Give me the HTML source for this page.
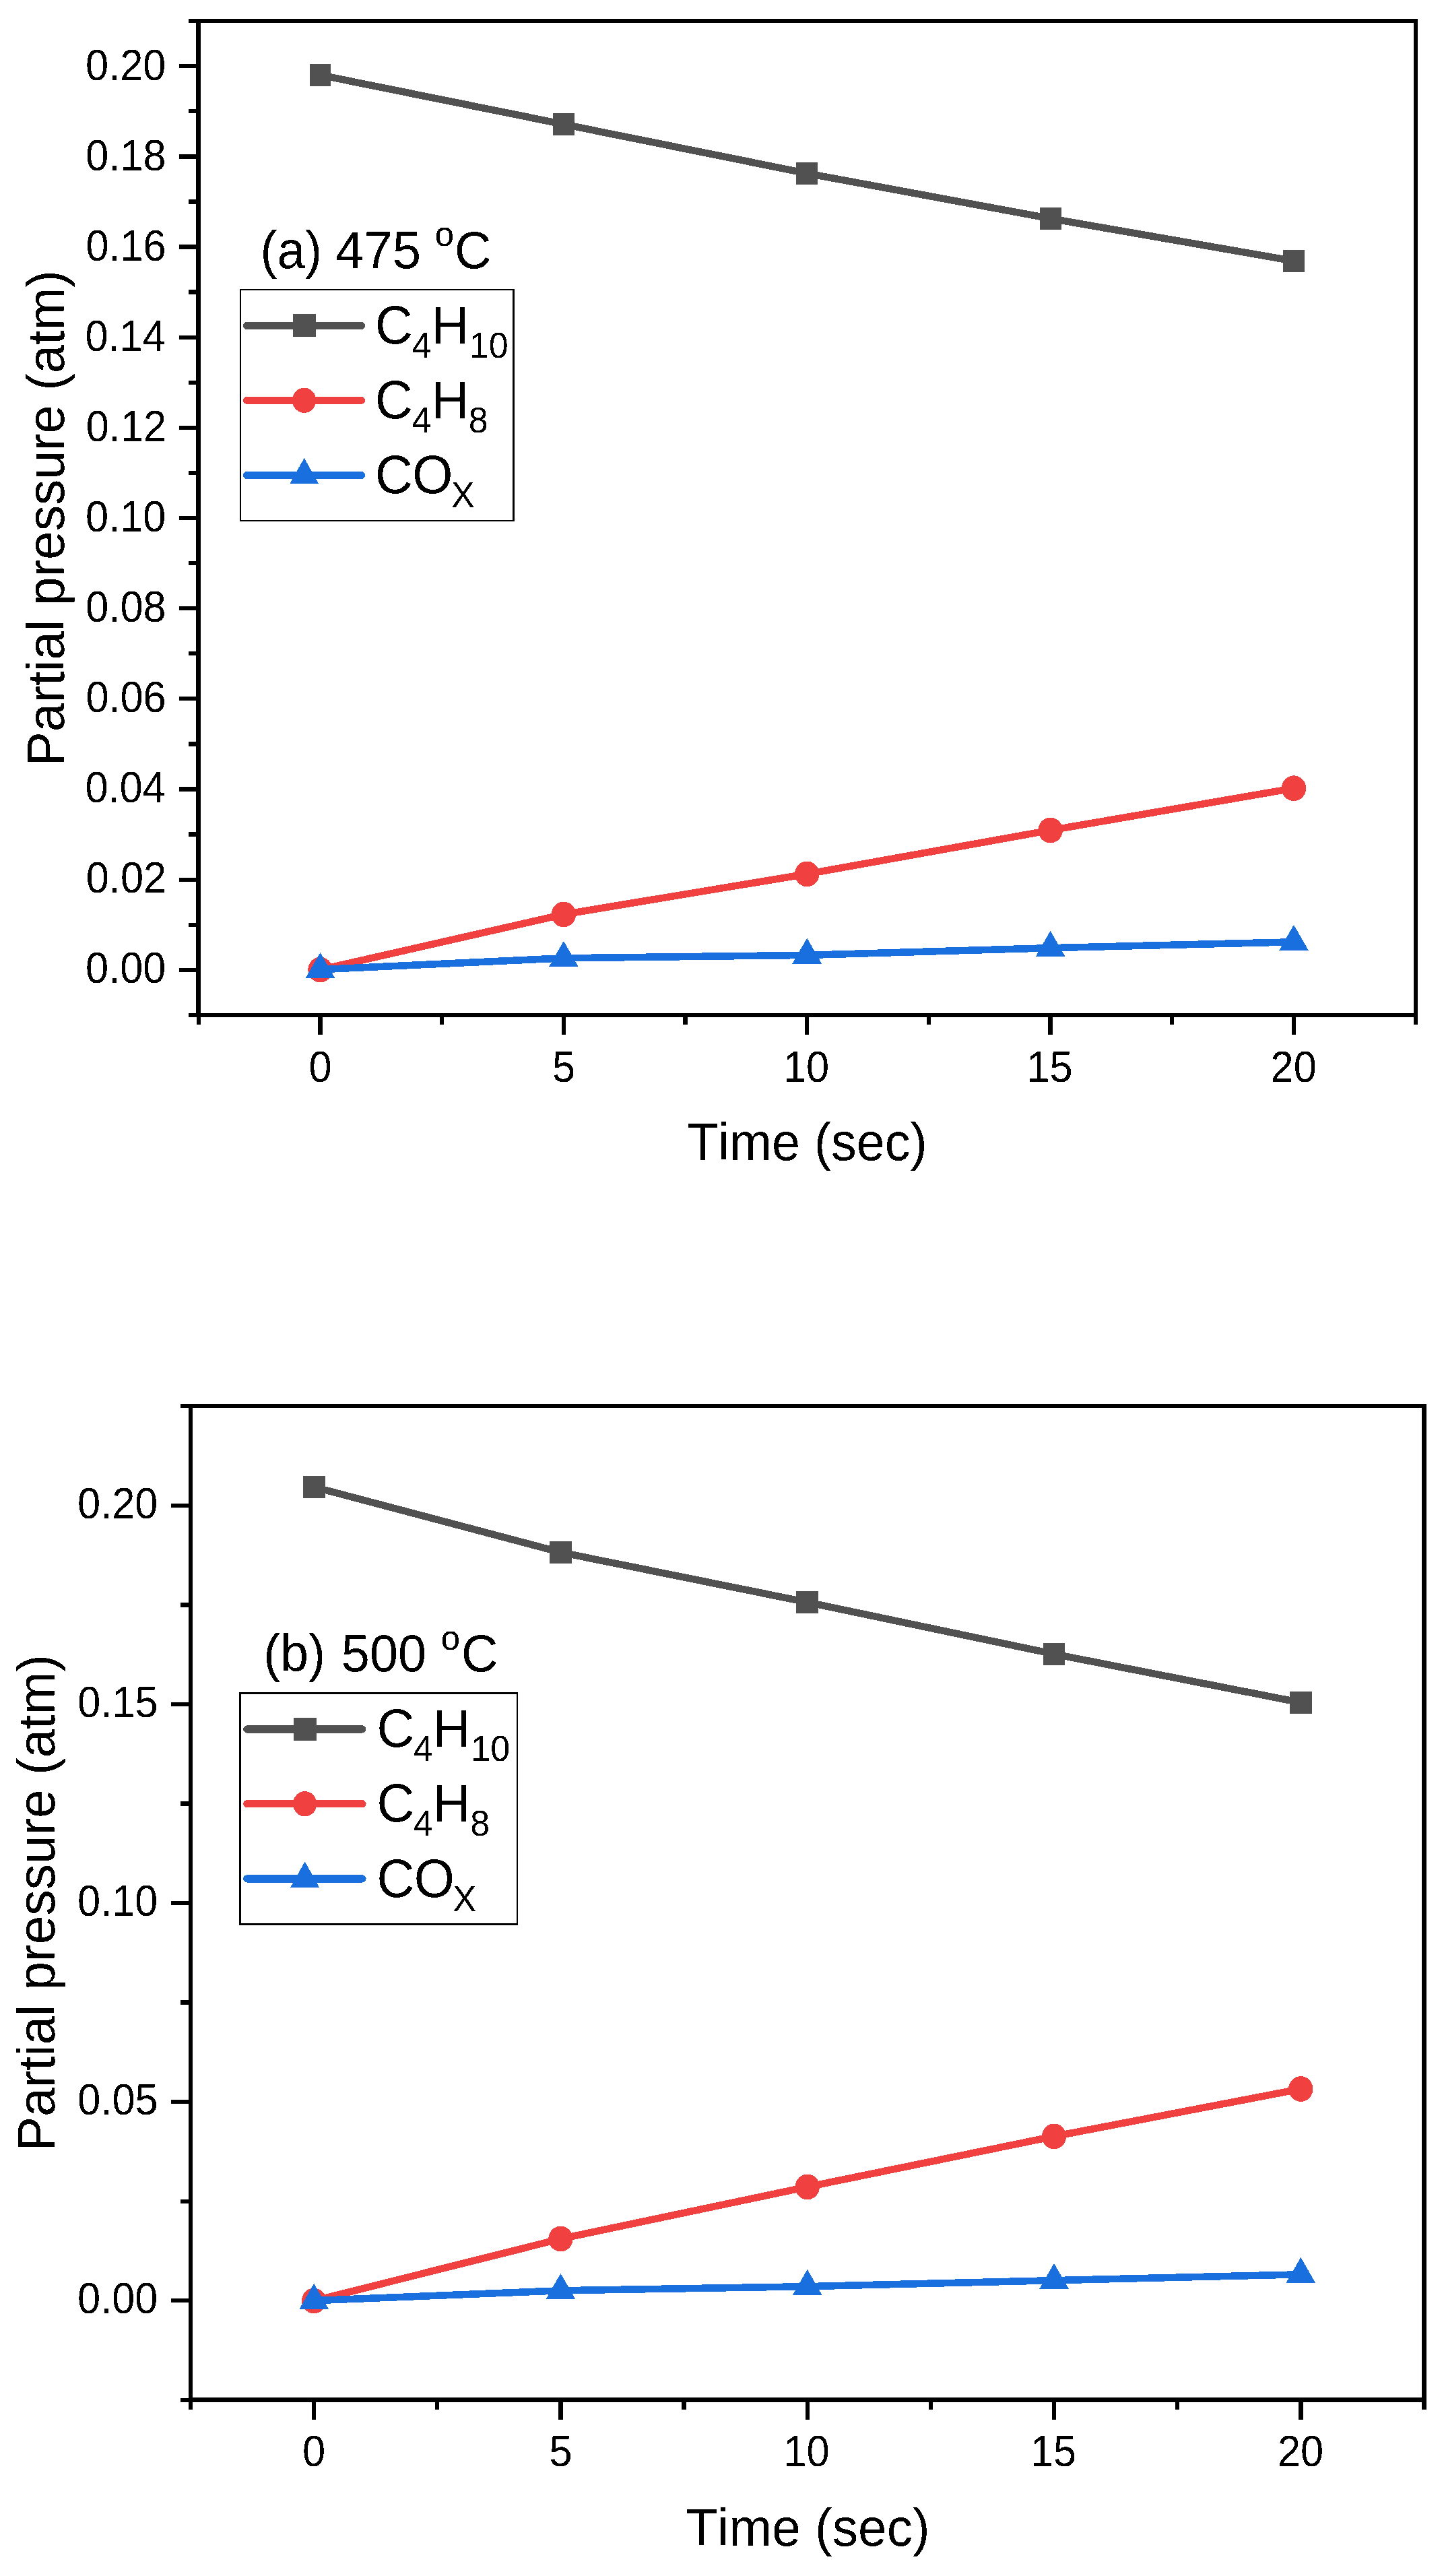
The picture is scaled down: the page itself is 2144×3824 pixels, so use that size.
<!DOCTYPE html>
<html><head><meta charset="utf-8"><title>Partial pressure vs time</title>
<style>
html,body{margin:0;padding:0;background:#fff;}
svg{display:block;}
text{font-family:'Liberation Sans', Arial, sans-serif;fill:#000;font-kerning:none;font-variant-ligatures:none;}
</style></head>
<body>
<svg width="2144" height="3824" viewBox="0 0 2144 3824" shape-rendering="crispEdges">
<defs><filter id="bin" x="0" y="0" width="2144" height="3824" filterUnits="userSpaceOnUse"><feComponentTransfer><feFuncA type="discrete" tableValues="0 1"/></feComponentTransfer></filter></defs>
<rect width="2144" height="3824" fill="#fff"/>
<g id="plot-a">
<path d="M475.5,111.4 L836.88,184.5 L1198.25,257.4 L1559.62,324.4 L1921,387.4" fill="none" stroke="#515151" stroke-width="10.6" stroke-linejoin="round"/>
<rect x="459.6" y="95.05" width="31.8" height="32.7" fill="#515151"/>
<rect x="820.98" y="168.15" width="31.8" height="32.7" fill="#515151"/>
<rect x="1182.35" y="241.05" width="31.8" height="32.7" fill="#515151"/>
<rect x="1543.72" y="308.05" width="31.8" height="32.7" fill="#515151"/>
<rect x="1905.1" y="371.05" width="31.8" height="32.7" fill="#515151"/>
<path d="M475.5,1439.5 L836.88,1357.4 L1198.25,1297.4 L1559.62,1232.5 L1921,1170.2" fill="none" stroke="#F14040" stroke-width="10.6" stroke-linejoin="round"/>
<ellipse cx="475.5" cy="1439.5" rx="18.2" ry="18.9" fill="#F14040"/>
<ellipse cx="836.88" cy="1357.4" rx="18.2" ry="18.9" fill="#F14040"/>
<ellipse cx="1198.25" cy="1297.4" rx="18.2" ry="18.9" fill="#F14040"/>
<ellipse cx="1559.62" cy="1232.5" rx="18.2" ry="18.9" fill="#F14040"/>
<ellipse cx="1921" cy="1170.2" rx="18.2" ry="18.9" fill="#F14040"/>
<path d="M475.5,1439.2 L836.88,1422.3 L1198.25,1417.9 L1559.62,1407.2 L1921,1398.3" fill="none" stroke="#1A6FDF" stroke-width="10.6" stroke-linejoin="round"/>
<path d="M475.5,1413.8 L497.3,1451.8 L453.7,1451.8Z" fill="#1A6FDF"/>
<path d="M836.88,1396.9 L858.67,1434.9 L815.08,1434.9Z" fill="#1A6FDF"/>
<path d="M1198.25,1392.5 L1220.05,1430.5 L1176.45,1430.5Z" fill="#1A6FDF"/>
<path d="M1559.62,1381.8 L1581.42,1419.8 L1537.83,1419.8Z" fill="#1A6FDF"/>
<path d="M1921,1372.9 L1942.8,1410.9 L1899.2,1410.9Z" fill="#1A6FDF"/>
<rect x="294.5" y="31.2" width="1807.5" height="1475.7" fill="none" stroke="#000" stroke-width="6.5"/>
<path d="M280,1506.88H294.5 M266,1439.8H294.5 M280,1372.72H294.5 M266,1305.65H294.5 M280,1238.57H294.5 M266,1171.49H294.5 M280,1104.41H294.5 M266,1037.34H294.5 M280,970.26H294.5 M266,903.18H294.5 M280,836.11H294.5 M266,769.03H294.5 M280,701.95H294.5 M266,634.88H294.5 M280,567.8H294.5 M266,500.72H294.5 M280,433.64H294.5 M266,366.57H294.5 M280,299.49H294.5 M266,232.41H294.5 M280,165.34H294.5 M266,98.26H294.5 M280,31.18H294.5 M294.81,1506.9V1520.9 M475.5,1506.9V1535.9 M656.19,1506.9V1520.9 M836.88,1506.9V1535.9 M1017.56,1506.9V1520.9 M1198.25,1506.9V1535.9 M1378.94,1506.9V1520.9 M1559.62,1506.9V1535.9 M1740.31,1506.9V1520.9 M1921,1506.9V1535.9 M2101.69,1506.9V1520.9" stroke="#000" stroke-width="6.3" fill="none"/>
<rect x="357" y="430" width="405.5" height="343.2" fill="none" stroke="#000" stroke-width="2.5"/>
<path d="M366.6,483.4H536.4" stroke="#515151" stroke-width="11.2" stroke-linecap="round"/>
<rect x="434.7" y="466.4" width="34" height="34" fill="#515151"/>
<path d="M366.6,594.3H536.4" stroke="#F14040" stroke-width="11.2" stroke-linecap="round"/>
<ellipse cx="451.7" cy="594.3" rx="17.6" ry="18.7" fill="#F14040"/>
<path d="M366.6,705.4H536.4" stroke="#1A6FDF" stroke-width="11.2" stroke-linecap="round"/>
<path d="M451.7,679.9 L473.3,718.4 L430.1,718.4Z" fill="#1A6FDF"/>
<g filter="url(#bin)">
<text transform="translate(127.09,1459) scale(1,1.0600)" font-size="61.3">0.00</text>
<text transform="translate(127.78,1324.99) scale(1,1.0600)" font-size="61.3">0.02</text>
<text transform="translate(126.49,1190.98) scale(1,1.0600)" font-size="61.3">0.04</text>
<text transform="translate(127.39,1056.97) scale(1,1.0600)" font-size="61.3">0.06</text>
<text transform="translate(127.36,922.96) scale(1,1.0600)" font-size="61.3">0.08</text>
<text transform="translate(127.09,788.95) scale(1,1.0600)" font-size="61.3">0.10</text>
<text transform="translate(127.78,654.94) scale(1,1.0600)" font-size="61.3">0.12</text>
<text transform="translate(126.49,520.93) scale(1,1.0600)" font-size="61.3">0.14</text>
<text transform="translate(127.39,386.92) scale(1,1.0600)" font-size="61.3">0.16</text>
<text transform="translate(127.36,252.91) scale(1,1.0600)" font-size="61.3">0.18</text>
<text transform="translate(127.09,118.9) scale(1,1.0600)" font-size="61.3">0.20</text>
<text transform="translate(458.45,1606.2) scale(1,1.0600)" font-size="61.3">0</text>
<text transform="translate(819.89,1606.2) scale(1,1.0600)" font-size="61.3">5</text>
<text transform="translate(1163.02,1606.2) scale(1,1.0600)" font-size="61.3">10</text>
<text transform="translate(1524.49,1606.2) scale(1,1.0600)" font-size="61.3">15</text>
<text transform="translate(1886.56,1606.2) scale(1,1.0600)" font-size="61.3">20</text>
<text transform="translate(1020.2,1722.5) scale(1,1.0200)" font-size="75.5">Time (sec)</text>
<text transform="translate(95.1,1137.28) rotate(-90) scale(1,1.02)" font-size="76.57">Partial pressure (atm)</text>
<text transform="translate(0,397.9) scale(1,1.03)" font-size="75"><tspan x="386.45" y="0">(a) </tspan><tspan x="498.05" y="0" font-size="76.21">475 </tspan><tspan x="645.86" y="-31.75" font-size="51">o</tspan><tspan x="674.97" y="0" font-size="75.5">C</tspan></text>
<text transform="translate(0,510.1) scale(1,1.04)" font-size="77.3"><tspan x="557.07" y="0">C</tspan><tspan x="611.61" y="20.19" font-size="52">4</tspan><tspan x="640.36" y="0">H</tspan><tspan x="696.84" y="20.19" font-size="52">10</tspan></text>
<text transform="translate(0,621) scale(1,1.04)" font-size="77.3"><tspan x="557.07" y="0">C</tspan><tspan x="611.61" y="20.19" font-size="52">4</tspan><tspan x="640.36" y="0">H</tspan><tspan x="695.74" y="20.19" font-size="52">8</tspan></text>
<text transform="translate(0,731.7) scale(1,1.04)" font-size="77.3"><tspan x="557.07" y="0">C</tspan><tspan x="612.14" y="0">O</tspan><tspan x="669.93" y="20.19" font-size="52">X</tspan></text>
</g>
</g>
<g id="plot-b">
<path d="M466.15,2207.4 L832.45,2304.4 L1198.75,2378.5 L1565.05,2455.4 L1931.35,2527.4" fill="none" stroke="#515151" stroke-width="10.6" stroke-linejoin="round"/>
<rect x="449.8" y="2191.05" width="32.7" height="32.7" fill="#515151"/>
<rect x="816.1" y="2288.05" width="32.7" height="32.7" fill="#515151"/>
<rect x="1182.4" y="2362.15" width="32.7" height="32.7" fill="#515151"/>
<rect x="1548.7" y="2439.05" width="32.7" height="32.7" fill="#515151"/>
<rect x="1915" y="2511.05" width="32.7" height="32.7" fill="#515151"/>
<path d="M466.15,3415.5 L832.45,3323.5 L1198.75,3246.4 L1565.05,3171.4 L1931.35,3101" fill="none" stroke="#F14040" stroke-width="10.6" stroke-linejoin="round"/>
<ellipse cx="466.15" cy="3415.5" rx="18.2" ry="18.9" fill="#F14040"/>
<ellipse cx="832.45" cy="3323.5" rx="18.2" ry="18.9" fill="#F14040"/>
<ellipse cx="1198.75" cy="3246.4" rx="18.2" ry="18.9" fill="#F14040"/>
<ellipse cx="1565.05" cy="3171.4" rx="18.2" ry="18.9" fill="#F14040"/>
<ellipse cx="1931.35" cy="3101" rx="18.2" ry="18.9" fill="#F14040"/>
<path d="M466.15,3415.2 L832.45,3400.3 L1198.75,3394.2 L1565.05,3385.2 L1931.35,3376.3" fill="none" stroke="#1A6FDF" stroke-width="10.6" stroke-linejoin="round"/>
<path d="M466.15,3389.8 L487.95,3427.8 L444.35,3427.8Z" fill="#1A6FDF"/>
<path d="M832.45,3374.9 L854.25,3412.9 L810.65,3412.9Z" fill="#1A6FDF"/>
<path d="M1198.75,3368.8 L1220.55,3406.8 L1176.95,3406.8Z" fill="#1A6FDF"/>
<path d="M1565.05,3359.8 L1586.85,3397.8 L1543.25,3397.8Z" fill="#1A6FDF"/>
<path d="M1931.35,3350.9 L1953.15,3388.9 L1909.55,3388.9Z" fill="#1A6FDF"/>
<rect x="283" y="2087" width="1831.5" height="1475.5" fill="none" stroke="#000" stroke-width="6.5"/>
<path d="M268,3562.75H283 M254,3415.2H283 M268,3267.65H283 M254,3120.1H283 M268,2972.55H283 M254,2825H283 M268,2677.45H283 M254,2529.9H283 M268,2382.35H283 M254,2234.8H283 M268,2087.25H283 M283,3562.5V3577 M466.15,3562.5V3592 M649.3,3562.5V3577 M832.45,3562.5V3592 M1015.6,3562.5V3577 M1198.75,3562.5V3592 M1381.9,3562.5V3577 M1565.05,3562.5V3592 M1748.2,3562.5V3577 M1931.35,3562.5V3592 M2114.5,3562.5V3577" stroke="#000" stroke-width="6.3" fill="none"/>
<rect x="356.5" y="2513.7" width="411.5" height="343" fill="none" stroke="#000" stroke-width="2.5"/>
<path d="M366.8,2567H538" stroke="#515151" stroke-width="11.2" stroke-linecap="round"/>
<rect x="435.7" y="2550" width="34" height="34" fill="#515151"/>
<path d="M366.8,2677.8H538" stroke="#F14040" stroke-width="11.2" stroke-linecap="round"/>
<ellipse cx="452.7" cy="2677.8" rx="17.6" ry="18.7" fill="#F14040"/>
<path d="M366.8,2788.9H538" stroke="#1A6FDF" stroke-width="11.2" stroke-linecap="round"/>
<path d="M452.7,2763.4 L474.3,2801.9 L431.1,2801.9Z" fill="#1A6FDF"/>
<g filter="url(#bin)">
<text transform="translate(115.09,3434.4) scale(1,1.0600)" font-size="61.3">0.00</text>
<text transform="translate(115.27,3139.3) scale(1,1.0600)" font-size="61.3">0.05</text>
<text transform="translate(115.09,2844.2) scale(1,1.0600)" font-size="61.3">0.10</text>
<text transform="translate(115.27,2549.1) scale(1,1.0600)" font-size="61.3">0.15</text>
<text transform="translate(115.09,2254) scale(1,1.0600)" font-size="61.3">0.20</text>
<text transform="translate(449.1,3661.3) scale(1,1.0600)" font-size="61.3">0</text>
<text transform="translate(815.46,3661.3) scale(1,1.0600)" font-size="61.3">5</text>
<text transform="translate(1163.52,3661.3) scale(1,1.0600)" font-size="61.3">10</text>
<text transform="translate(1529.91,3661.3) scale(1,1.0600)" font-size="61.3">15</text>
<text transform="translate(1896.91,3661.3) scale(1,1.0600)" font-size="61.3">20</text>
<text transform="translate(1018.38,3778.8) scale(1,1.0200)" font-size="76.7">Time (sec)</text>
<text transform="translate(81.1,3193.19) rotate(-90) scale(1,1.02)" font-size="76.67">Partial pressure (atm)</text>
<text transform="translate(0,2481.2) scale(1,1.03)" font-size="75"><tspan x="391.25" y="0">(b) </tspan><tspan x="506.87" y="0" font-size="75.57">500 </tspan><tspan x="654.86" y="-30.87" font-size="51">o</tspan><tspan x="684.97" y="0" font-size="75.5">C</tspan></text>
<text transform="translate(0,2592.9) scale(1,1.04)" font-size="77.3"><tspan x="559.57" y="0">C</tspan><tspan x="614.11" y="20.19" font-size="52">4</tspan><tspan x="642.86" y="0">H</tspan><tspan x="699.34" y="20.19" font-size="52">10</tspan></text>
<text transform="translate(0,2704.4) scale(1,1.04)" font-size="77.3"><tspan x="559.57" y="0">C</tspan><tspan x="614.11" y="20.19" font-size="52">4</tspan><tspan x="642.86" y="0">H</tspan><tspan x="698.24" y="20.19" font-size="52">8</tspan></text>
<text transform="translate(0,2815.5) scale(1,1.04)" font-size="77.3"><tspan x="559.57" y="0">C</tspan><tspan x="614.64" y="0">O</tspan><tspan x="672.43" y="20.19" font-size="52">X</tspan></text>
</g>
</g>
</svg>
</body></html>
